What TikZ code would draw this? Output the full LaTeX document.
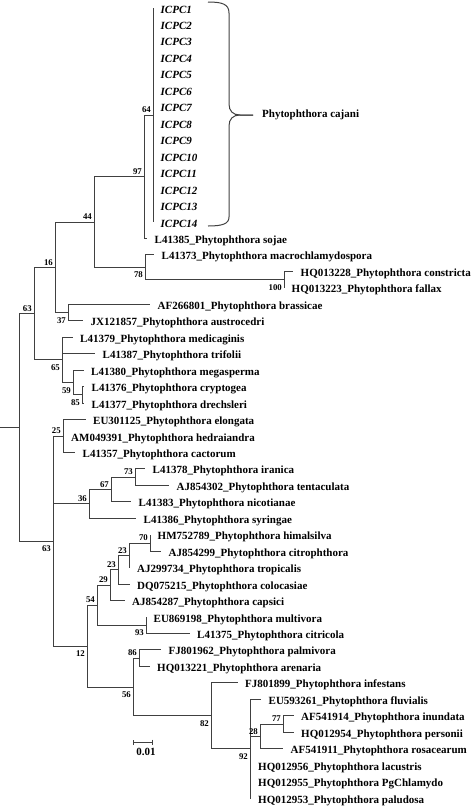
\documentclass[tikz,border=0pt]{standalone}
\usepackage{fontspec}
\setmainfont{Liberation Serif}
\usetikzlibrary{positioning,arrows.meta}
\newcommand{\leaffont}{\fontsize{11}{12}\selectfont\bfseries}
\newcommand{\bootfont}{\fontsize{8.8}{10}\selectfont\bfseries}

\begin{document}
\begin{tikzpicture}[x=1pt,y=-1pt,
        br/.style={draw=black!75,line width=1pt},
        leaf/.style={anchor=west,inner xsep=7.5pt,inner ysep=0pt,text height=10pt,text depth=0pt,font=\leaffont},
        icpc/.style={leaf,font=\leaffont\itshape},
        bootA/.style={anchor=south east,inner sep=2pt,font=\bootfont},
        bootB/.style={anchor=north east,inner xsep=2pt,inner ysep=0pt,yshift=-4.5pt,font=\bootfont}]
        \useasboundingbox (0,0) rectangle (472,807);
        % internal nodes
        \coordinate (root) at (19,427.3);
        \coordinate (n63a) at (34,313.6);
        \coordinate (n16) at (55,267.3);
        \coordinate (n44) at (94,222);
        \coordinate (n97) at (144,176.7);
        \coordinate (n64) at (153,115);
        \coordinate (n78) at (145,267.3);
        \coordinate (n100) at (284,279.6);
        \coordinate (n37) at (68,312.5);
        \coordinate (n65) at (62,359.9);
        \coordinate (n59) at (73,382.5);
        \coordinate (n85) at (82,394.8);
        \coordinate (n63b) at (53,541);
        \coordinate (n25) at (63,436);
        \coordinate (n36) at (89,503.9);
        \coordinate (n67) at (111,489.5);
        \coordinate (n73) at (135,477.1);
        \coordinate (n12) at (87,646.1);
        \coordinate (n54) at (97,605.2);
        \coordinate (n29) at (110,585.2);
        \coordinate (n23b) at (118,569.7);
        \coordinate (n23a) at (129,555.3);
        \coordinate (n70) at (150,543);
        \coordinate (n93) at (146,625.3);
        \coordinate (n56) at (133,687);
        \coordinate (n86) at (139,658.2);
        \coordinate (n82) at (211,715.8);
        \coordinate (n92) at (250,748.7);
        \coordinate (n28) at (260,736.4);
        \coordinate (n77) at (283,724);
        % leaves
        \node[icpc](icpc1)at(153,8){ICPC1};
        \node[icpc](icpc2)at(153,24.5){ICPC2};
        \node[icpc](icpc3)at(153,40.9){ICPC3};
        \node[icpc](icpc4)at(153,57.4){ICPC4};
        \node[icpc](icpc5)at(153,73.8){ICPC5};
        \node[icpc](icpc6)at(153,90.3){ICPC6};
        \node[icpc](icpc7)at(153,106.8){ICPC7};
        \node[icpc](icpc8)at(153,123.2){ICPC8};
        \node[icpc](icpc9)at(153,139.7){ICPC9};
        \node[icpc](icpc10)at(153,156.1){ICPC10};
        \node[icpc](icpc11)at(153,172.6){ICPC11};
        \node[icpc](icpc12)at(153,189.1){ICPC12};
        \node[icpc](icpc13)at(153,205.5){ICPC13};
        \node[icpc](icpc14)at(153,222){ICPC14};
        \node[leaf](sojae)at(147,238.4){L41385\_Phytophthora sojae};
        \node[leaf](macro)at(154,254.9){L41373\_Phytophthora macrochlamydospora};
        \node[leaf](constr)at(293,271.4){HQ013228\_Phytophthora constricta};
        \node[leaf](fallax)at(284,287.8){HQ013223\_Phytophthora fallax};
        \node[leaf](brass)at(150,304.3){AF266801\_Phytophthora brassicae};
        \node[leaf](austro)at(83,320.7){JX121857\_Phytophthora austrocedri};
        \node[leaf](medic)at(72.5,337.2){L41379\_Phytophthora medicaginis};
        \node[leaf](trif)at(95,353.7){L41387\_Phytophthora trifolii};
        \node[leaf](megas)at(83.5,370.1){L41380\_Phytophthora megasperma};
        \node[leaf](crypt)at(84,386.6){L41376\_Phytophthora cryptogea};
        \node[leaf](drech)at(84,403){L41377\_Phytophthora drechsleri};
        \node[leaf](elong)at(85.5,419.5){EU301125\_Phytophthora elongata};
        \node[leaf](hedra)at(63.5,436){AM049391\_Phytophthora hedraiandra};
        \node[leaf](cact)at(75,452.4){L41357\_Phytophthora cactorum};
        \node[leaf](iran)at(145,468.9){L41378\_Phytophthora iranica};
        \node[leaf](tent)at(169,485.3){AJ854302\_Phytophthora tentaculata};
        \node[leaf](nicot)at(131,501.8){L41383\_Phytophthora nicotianae};
        \node[leaf](syrin)at(136,518.3){L41386\_Phytophthora syringae};
        \node[leaf](himal)at(150,534.7){HM752789\_Phytophthora himalsilva};
        \node[leaf](citro)at(161,551.2){AJ854299\_Phytophthora citrophthora};
        \node[leaf](tropi)at(129.5,567.6){AJ299734\_Phytophthora tropicalis};
        \node[leaf](coloc)at(129.5,584.1){DQ075215\_Phytophthora colocasiae};
        \node[leaf](capsi)at(124.5,600.6){AJ854287\_Phytophthora capsici};
        \node[leaf](multi)at(146,617){EU869198\_Phytophthora multivora};
        \node[leaf](citri)at(189.5,633.5){L41375\_Phytophthora citricola};
        \node[leaf](palmi)at(161,649.9){FJ801962\_Phytophthora palmivora};
        \node[leaf](arena)at(149.5,666.4){HQ013221\_Phytophthora arenaria};
        \node[leaf](infes)at(237.5,682.9){FJ801899\_Phytophthora infestans};
        \node[leaf](fluvi)at(261,699.3){EU593261\_Phytophthora fluvialis};
        \node[leaf](inund)at(293.5,715.8){AF541914\_Phytophthora inundata};
        \node[leaf](perso)at(293.5,732.2){HQ012954\_Phytophthora personii};
        \node[leaf](rosac)at(283,748.7){AF541911\_Phytophthora rosacearum};
        \node[leaf](lacus)at(250.5,765.2){HQ012956\_Phytophthora lacustris};
        \node[leaf](pgchl)at(250.5,781.6){HQ012955\_Phytophthora PgChlamydo};
        \node[leaf](palud)at(250.5,798.1){HQ012953\_Phytophthora paludosa};
        % branches
        \coordinate (r0) at (0,427.3);
        \draw[br](r0)--(root);
        \draw[br](root)|-(n63a);
        \draw[br](root)|-(n63b);
        \draw[br](n63a)|-(n16);
        \draw[br](n63a)|-(n65);
        \draw[br](n16)|-(n44);
        \draw[br](n16)|-(n37);
        \draw[br](n44)|-(n97);
        \draw[br](n44)|-(n78);
        \draw[br](n97)|-(n64);
        \draw[br](n97)|-(sojae.west);
        \draw[br](n64)|-(icpc1.west);
        \draw[br](n64)|-(icpc14.west);
        \draw[br](n78)|-(macro.west);
        \draw[br](n78)|-(n100);
        \draw[br](n100)|-(constr.west);
        \draw[br](n100)|-(fallax.west);
        \draw[br](n37)|-(brass.west);
        \draw[br](n37)|-(austro.west);
        \draw[br](n65)|-(medic.west);
        \draw[br](n65)|-(trif.west);
        \draw[br](n65)|-(n59);
        \draw[br](n59)|-(megas.west);
        \draw[br](n59)|-(n85);
        \draw[br](n85)|-(crypt.west);
        \draw[br](n85)|-(drech.west);
        \draw[br](n63b)|-(n25);
        \draw[br](n63b)|-(n36);
        \draw[br](n63b)|-(n12);
        \draw[br](n25)|-(elong.west);
        \draw[br](n25)|-(hedra.west);
        \draw[br](n25)|-(cact.west);
        \draw[br](n36)|-(n67);
        \draw[br](n36)|-(syrin.west);
        \draw[br](n67)|-(n73);
        \draw[br](n67)|-(nicot.west);
        \draw[br](n73)|-(iran.west);
        \draw[br](n73)|-(tent.west);
        \draw[br](n12)|-(n54);
        \draw[br](n12)|-(n56);
        \draw[br](n54)|-(n29);
        \draw[br](n54)|-(n93);
        \draw[br](n29)|-(n23b);
        \draw[br](n29)|-(capsi.west);
        \draw[br](n23b)|-(n23a);
        \draw[br](n23b)|-(coloc.west);
        \draw[br](n23a)|-(n70);
        \draw[br](n23a)|-(tropi.west);
        \draw[br](n70)|-(himal.west);
        \draw[br](n70)|-(citro.west);
        \draw[br](n93)|-(multi.west);
        \draw[br](n93)|-(citri.west);
        \draw[br](n56)|-(n86);
        \draw[br](n56)|-(n82);
        \draw[br](n86)|-(palmi.west);
        \draw[br](n86)|-(arena.west);
        \draw[br](n82)|-(infes.west);
        \draw[br](n82)|-(n92);
        \draw[br](n92)|-(fluvi.west);
        \draw[br](n92)|-(n28);
        \draw[br](n92)|-(palud.west);
        \draw[br](n28)|-(n77);
        \draw[br](n28)|-(rosac.west);
        \draw[br](n77)|-(inund.west);
        \draw[br](n77)|-(perso.west);
        % bootstrap values
        \node[bootA](b64)at(n64){64};
        \node[bootA](b97)at(n97){97};
        \node[bootA](b44)at(n44){44};
        \node[bootB](b78)at(n78){78};
        \node[bootB](b100)at(n100){100};
        \node[bootA](b16)at(n16){16};
        \node[bootB](b37)at(n37){37};
        \node[bootA](b63a)at(n63a){63};
        \node[bootB](b65)at(n65){65};
        \node[bootB](b59)at(n59){59};
        \node[bootB](b85)at(n85){85};
        \node[bootA](b25)at(n25){25};
        \node[bootA](b73)at(n73){73};
        \node[bootA](b67)at(n67){67};
        \node[bootA](b36)at(n36){36};
        \node[bootB](b63b)at(n63b){63};
        \node[bootA](b70)at(n70){70};
        \node[bootA](b23a)at(n23a){23};
        \node[bootA](b23b)at(n23b){23};
        \node[bootA](b29)at(n29){29};
        \node[bootA](b54)at(n54){54};
        \node[bootB](b93)at(n93){93};
        \node[bootB](b12)at(n12){12};
        \node[bootA](b86)at(n86){86};
        \node[bootB](b56)at(n56){56};
        \node[bootB](b82)at(n82){82};
        \node[bootB](b92)at(n92){92};
        \node[bootA](b28)at(n28){28};
        \node[bootA](b77)at(n77){77};
        % brace
        \coordinate (bt) at (208,2);
        \coordinate (bb) at (208,226);
        \coordinate (tip) at (253,115);
        \draw[br](bt) .. controls (222,2) and (229,4) .. (229,13)--(229,104) .. controls (229,111) and (233,115) .. (240,115)--(tip);
        \draw[br](tip)--(240,115) .. controls (233,115) and (229,119) .. (229,126)--(229,217) .. controls (229,224) and (222,226) .. (bb);
        \node[inner sep=0pt,font=\leaffont,right=9pt of tip](cajani){Phytophthora cajani};
        % scale bar
        \coordinate (s1) at (133,742);
        \coordinate (s2) at (153,742);
        \draw[br,{Bar[width=5pt]}-{Bar[width=5pt]}](s1)--(s2);
        \node[inner sep=0pt,font=\leaffont](sclab)at(146,752){0.01};
    \end{tikzpicture}
\end{document}
